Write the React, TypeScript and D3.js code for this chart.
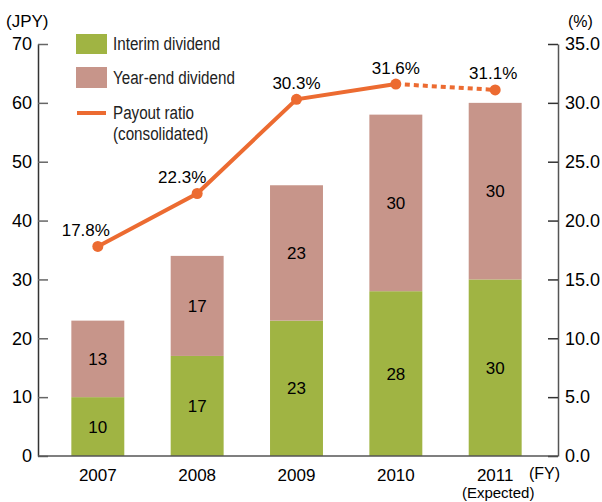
import React, { useEffect, useRef } from 'react';
import * as d3 from 'd3';

const years = ['2007', '2008', '2009', '2010', '2011'];
const interim = [10, 17, 23, 28, 30];
const yearEnd = [13, 17, 23, 30, 30];
const payout = [17.8, 22.3, 30.3, 31.6, 31.1];
const payoutLabels = ['17.8%', '22.3%', '30.3%', '31.6%', '31.1%'];
const leftTicks = [0, 10, 20, 30, 40, 50, 60, 70];
const rightTicks = [0, 5, 10, 15, 20, 25, 30, 35];

const GREEN = '#a0b443';
const PINK = '#c7958a';
const ORANGE = '#ec6b31';
const FONT = '"Liberation Sans", Arial, Helvetica, sans-serif';

const App = () => {
  const ref = useRef<SVGSVGElement | null>(null);

  useEffect(() => {
    const width = 602;
    const height = 502;
    const left = 38;
    const right = 558;
    const top = 44;
    const bottom = 456;

    const svg = d3.select(ref.current);
    svg.selectAll('*').remove();
    svg.attr('width', width).attr('height', height);

    const x = d3.scaleBand<string>()
      .domain(years)
      .range([48, 545])
      .paddingInner(0.467)
      .paddingOuter(0.235);

    const y = d3.scaleLinear().domain([0, 70]).range([bottom, top]);
    const y2 = d3.scaleLinear().domain([0, 35]).range([bottom, top]);

    // bars
    const g = svg.append('g');
    years.forEach((yr, i) => {
      g.append('rect')
        .attr('x', x(yr)!)
        .attr('y', y(interim[i]))
        .attr('width', x.bandwidth())
        .attr('height', y(0) - y(interim[i]))
        .attr('fill', GREEN);
      g.append('rect')
        .attr('x', x(yr)!)
        .attr('y', y(interim[i] + yearEnd[i]))
        .attr('width', x.bandwidth())
        .attr('height', y(interim[i]) - y(interim[i] + yearEnd[i]))
        .attr('fill', PINK);
      const cx = x(yr)! + x.bandwidth() / 2;
      g.append('text')
        .attr('x', cx)
        .attr('y', (y(0) + y(interim[i])) / 2 + 6)
        .attr('text-anchor', 'middle')
        .attr('font-size', 17)
        .attr('font-family', FONT)
        .attr('fill', '#000')
        .text(interim[i]);
      g.append('text')
        .attr('x', cx)
        .attr('y', (y(interim[i]) + y(interim[i] + yearEnd[i])) / 2 + 6)
        .attr('text-anchor', 'middle')
        .attr('font-size', 17)
        .attr('font-family', FONT)
        .attr('fill', '#000')
        .text(yearEnd[i]);
    });

    // left axis
    const la = svg.append('g')
      .attr('transform', `translate(${left},0)`)
      .call(d3.axisLeft(y).tickValues(leftTicks).tickSize(-10).tickSizeOuter(0).tickPadding(7));
    la.select('.domain').attr('stroke', '#333').attr('stroke-width', 1.5);
    la.selectAll('.tick line').attr('stroke', '#666').attr('stroke-width', 1.5);
    la.selectAll('.tick text')
      .attr('font-size', 18).attr('font-family', FONT).attr('fill', '#000')
      .attr('x', -6);

    // right axis
    const ra = svg.append('g')
      .attr('transform', `translate(${right},0)`)
      .call(d3.axisRight(y2).tickValues(rightTicks).tickSize(-10).tickSizeOuter(0).tickPadding(7)
        .tickFormat(d3.format('.1f')));
    ra.select('.domain').attr('stroke', '#555').attr('stroke-width', 1.5);
    ra.selectAll('.tick line').attr('stroke', '#333').attr('stroke-width', 1.5);
    ra.selectAll('.tick text')
      .attr('font-size', 18).attr('font-family', FONT).attr('fill', '#000');

    // baseline
    svg.append('line')
      .attr('x1', left).attr('x2', right)
      .attr('y1', bottom).attr('y2', bottom)
      .attr('stroke', '#555').attr('stroke-width', 1.5);

    // x labels
    years.forEach(yr => {
      svg.append('text')
        .attr('x', x(yr)! + x.bandwidth() / 2)
        .attr('y', 481)
        .attr('text-anchor', 'middle')
        .attr('font-size', 17)
        .attr('font-family', FONT)
        .attr('fill', '#000')
        .text(yr);
    });
    svg.append('text')
      .attr('x', x('2011')! + x.bandwidth() / 2 + 3)
      .attr('y', 498)
      .attr('text-anchor', 'middle')
      .attr('font-size', 15)
      .attr('font-family', FONT)
      .attr('fill', '#000')
      .text('(Expected)');
    svg.append('text')
      .attr('x', 529).attr('y', 479)
      .attr('font-size', 16).attr('font-family', FONT).attr('fill', '#000')
      .text('(FY)');
    svg.append('text')
      .attr('x', 6).attr('y', 27)
      .attr('font-size', 17).attr('font-family', FONT).attr('fill', '#000')
      .text('(JPY)');
    svg.append('text')
      .attr('x', 568).attr('y', 27)
      .attr('font-size', 16).attr('font-family', FONT).attr('fill', '#000')
      .text('(%)');

    // payout ratio line
    const pts: [number, number][] = years.map((yr, i) => [x(yr)! + x.bandwidth() / 2, y2(payout[i])]);
    const line = d3.line();
    svg.append('path')
      .attr('d', line(pts.slice(0, 4)))
      .attr('fill', 'none')
      .attr('stroke', ORANGE)
      .attr('stroke-width', 4);
    svg.append('path')
      .attr('d', line(pts.slice(3)))
      .attr('fill', 'none')
      .attr('stroke', ORANGE)
      .attr('stroke-width', 4)
      .attr('stroke-dasharray', '5,4');
    svg.selectAll('circle.pt')
      .data(pts)
      .enter()
      .append('circle')
      .attr('cx', d => d[0])
      .attr('cy', d => d[1])
      .attr('r', 5.5)
      .attr('fill', ORANGE);

    const labelShift = [-12, -15, 0, 0, -2];
    pts.forEach((p, i) => {
      svg.append('text')
        .attr('x', p[0] + labelShift[i])
        .attr('y', p[1] - 10.5)
        .attr('text-anchor', 'middle')
        .attr('font-size', 17)
        .attr('font-family', FONT)
        .attr('fill', '#000')
        .text(payoutLabels[i]);
    });

    // legend (condensed look via horizontal scale)
    const lg = svg.append('g');
    lg.append('rect').attr('x', 76).attr('y', 34).attr('width', 31).attr('height', 20).attr('fill', GREEN);
    lg.append('rect').attr('x', 76).attr('y', 67).attr('width', 31).attr('height', 21).attr('fill', PINK);
    lg.append('line').attr('x1', 77).attr('x2', 106).attr('y1', 113).attr('y2', 113)
      .attr('stroke', ORANGE).attr('stroke-width', 4);
    const legendText: [string, number][] = [
      ['Interim dividend', 50],
      ['Year-end dividend', 84],
      ['Payout ratio', 119],
      ['(consolidated)', 140],
    ];
    legendText.forEach(([t, yy]) => {
      lg.append('text')
        .attr('transform', `translate(113,${yy}) scale(0.8,1)`)
        .attr('font-size', 19)
        .attr('font-family', FONT)
        .attr('fill', '#222')
        .text(t);
    });
  }, []);

  return <svg ref={ref} style={{ position: 'absolute', left: 0, top: 0 }}></svg>;
};

export default App;
